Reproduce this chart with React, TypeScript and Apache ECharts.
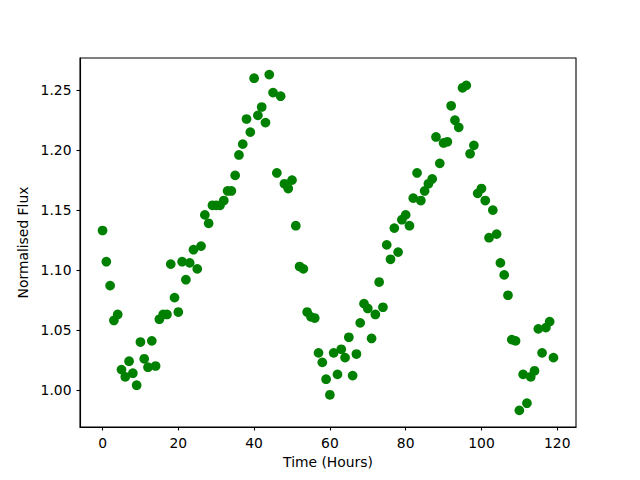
import React, { useEffect, useRef } from "react";
import * as echarts from "echarts";

const hours: number[] = [
  0, 1, 2, 3, 4, 5, 6, 7, 8, 9,
  10, 11, 12, 13, 14, 15, 16, 17, 18, 19,
  20, 21, 22, 23, 24, 25, 26, 27, 28, 29,
  30, 31, 32, 33, 34, 35, 36, 37, 38, 39,
  40, 41, 42, 43, 44, 45, 46, 47, 48, 49,
  50, 51, 52, 53, 54, 55, 56, 57, 58, 59,
  60, 61, 62, 63, 64, 65, 66, 67, 68, 69,
  70, 71, 72, 73, 74, 75, 76, 77, 78, 79,
  80, 81, 82, 83, 84, 85, 86, 87, 88, 89,
  90, 91, 92, 93, 94, 95, 96, 97, 98, 99,
  100, 101, 102, 103, 104, 105, 106, 107, 108, 109,
  110, 111, 112, 113, 114, 115, 116, 117, 118, 119,
];

const flux: number[] = [
  1.133, 1.107, 1.087, 1.058, 1.063, 1.017, 1.011, 1.024, 1.014, 1.004,
  1.040, 1.026, 1.019, 1.041, 1.020, 1.059, 1.063, 1.063, 1.105, 1.077,
  1.065, 1.107, 1.092, 1.106, 1.117, 1.101, 1.120, 1.146, 1.139, 1.154,
  1.154, 1.154, 1.158, 1.166, 1.166, 1.179, 1.196, 1.205, 1.226, 1.215,
  1.260, 1.229, 1.236, 1.223, 1.263, 1.248, 1.181, 1.245, 1.172, 1.168,
  1.175, 1.137, 1.103, 1.101, 1.065, 1.061, 1.060, 1.031, 1.023, 1.009,
  0.996, 1.031, 1.013, 1.034, 1.027, 1.044, 1.012, 1.030, 1.056, 1.072,
  1.068, 1.043, 1.063, 1.090, 1.069, 1.121, 1.109, 1.135, 1.115, 1.142,
  1.146, 1.137, 1.160, 1.181, 1.158, 1.166, 1.172, 1.176, 1.211, 1.189,
  1.206, 1.207, 1.237, 1.225, 1.219, 1.252, 1.254, 1.197, 1.204, 1.164,
  1.168, 1.158, 1.127, 1.150, 1.130, 1.106, 1.096, 1.079, 1.042, 1.041,
  0.983, 1.013, 0.989, 1.011, 1.016, 1.051, 1.031, 1.052, 1.057, 1.027,
];

const xTicks: number[] = [0, 20, 40, 60, 80, 100, 120];
const yTicks: number[] = [1.0, 1.05, 1.1, 1.15, 1.2, 1.25];

const FONT = "DejaVu Sans";
const FS = 13.89;

export default function App() {
  const ref = useRef<HTMLDivElement>(null);
  useEffect(() => {
    if (!ref.current) return;
    const chart = echarts.init(ref.current, null, { renderer: "svg" });
    const data = hours.map((h, i) => [h, flux[i]]);
    chart.setOption({
      animation: false,
      backgroundColor: "#ffffff",
      grid: {
        left: 80,
        top: 58,
        width: 496,
        height: 369,
        show: true,
        borderColor: "#000",
        borderWidth: 1.1,
        backgroundColor: "transparent",
        containLabel: false,
        outerBoundsMode: "none",
      },
      xAxis: {
        type: "value",
        min: -5.95,
        max: 124.95,
        name: "Time (Hours)",
        nameLocation: "middle",
        nameGap: 28,
        nameTextStyle: { fontFamily: FONT, fontSize: FS, color: "#000" },
        axisLine: { show: true, onZero: false, lineStyle: { color: "#000", width: 1.1 } },
        axisTick: {
          show: true,
          customValues: xTicks,
          length: 3.5,
          inside: false,
          lineStyle: { color: "#000", width: 1.1 },
        },
        axisLabel: {
          customValues: xTicks,
          margin: 8.5,
          fontFamily: FONT,
          fontSize: FS,
          color: "#000",
          formatter: (v: number) => String(Math.round(v)),
        },
        splitLine: { show: false },
      },
      yAxis: {
        type: "value",
        min: 0.96915,
        max: 1.27685,
        name: "Normalised Flux",
        nameLocation: "middle",
        nameGap: 43,
        nameTextStyle: { fontFamily: FONT, fontSize: FS, color: "#000" },
        axisLine: { show: true, onZero: false, lineStyle: { color: "#000", width: 1.1 } },
        axisTick: {
          show: true,
          customValues: yTicks,
          length: 3.5,
          inside: false,
          lineStyle: { color: "#000", width: 1.1 },
        },
        axisLabel: {
          customValues: yTicks,
          margin: 8.5,
          fontFamily: FONT,
          fontSize: FS,
          color: "#000",
          formatter: (v: number) => v.toFixed(2),
        },
        splitLine: { show: false },
      },
      series: [
        {
          type: "scatter",
          data,
          symbol: "circle",
          symbolSize: 9.7,
          itemStyle: { color: "#008000", opacity: 1 },
          emphasis: { disabled: true },
        },
      ],
    });
    return () => chart.dispose();
  }, []);
  return (
    <div
      ref={ref}
      style={{ position: "fixed", left: 0, top: 0, width: 640, height: 480 }}
    />
  );
}
